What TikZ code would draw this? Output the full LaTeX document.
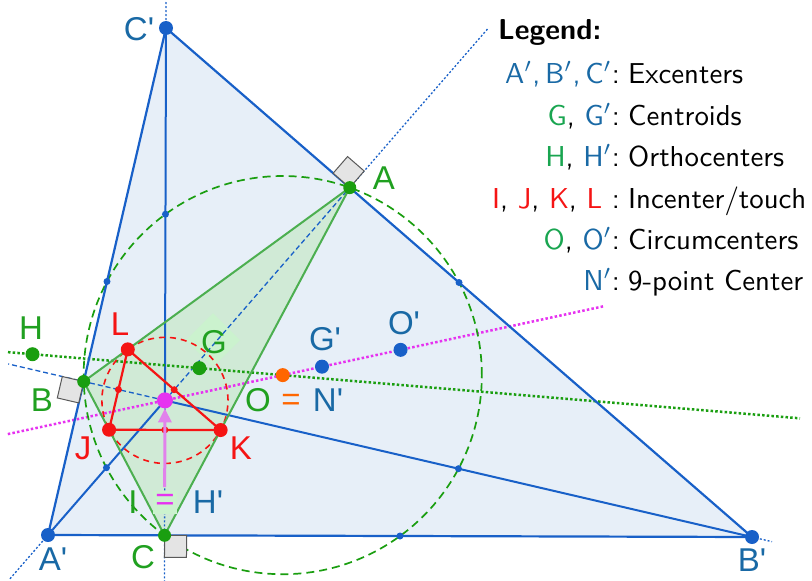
\documentclass[tikz,border=0pt]{standalone}
\usepackage{fontspec}
\newfontfamily\lab{Liberation Sans}
\usetikzlibrary{calc,arrows.meta}
\definecolor{exblue}{RGB}{24,96,200}
\definecolor{lblue}{RGB}{25,105,165}
\definecolor{tgreen}{RGB}{76,175,80}
\definecolor{pgreen}{RGB}{26,158,16}
\definecolor{lgreen}{RGB}{32,160,32}
\definecolor{leggreen}{RGB}{25,165,80}
\definecolor{rred}{RGB}{245,20,20}
\definecolor{mag}{RGB}{230,50,240}
\definecolor{pinkarrow}{RGB}{225,130,235}
\definecolor{orng}{RGB}{255,102,0}
\definecolor{fillblue}{RGB}{231,239,248}
\definecolor{fillgreen}{RGB}{208,234,214}
\definecolor{diamondgreen}{RGB}{203,242,206}
\definecolor{sqfill}{RGB}{228,228,228}
\newcommand{\legtxt}[1]{\scalebox{2.88}{\fontsize{10}{12}\selectfont #1}}
\begin{document}
\begin{tikzpicture}[x=1pt,y=-1pt,
  solidblue/.style={exblue,line width=2pt},
  dashblue/.style={exblue,line width=1.3pt,dash pattern=on 5pt off 3pt},
  dotblue/.style={exblue,line width=1.3pt,dash pattern=on 2pt off 2pt},
  rsq/.style={fill=sqfill,draw=black!65,line width=1pt},
  lbl/.style={inner sep=0pt,anchor=center,font=\lab\fontsize{33}{33}\selectfont},
  legl/.style={inner sep=0pt,anchor=base east,font=\sffamily},
  legr/.style={inner sep=0pt,anchor=base west,font=\sffamily},
]
\useasboundingbox (0,0) rectangle (812,581);
% excenters and derived points
\coordinate (Ap) at (48,535);
\coordinate (Bp) at (752,537);
\coordinate (Cp) at (166,28);
\coordinate (A) at ($(Bp)!(Ap)!(Cp)$);
\coordinate (B) at ($(Ap)!(Bp)!(Cp)$);
\coordinate (C) at ($(Ap)!(Cp)!(Bp)$);
\coordinate (I) at (intersection of Ap--A and Cp--C);
\coordinate (Mc) at ($(Ap)!0.5!(Bp)$);
\coordinate (Mb) at ($(Ap)!0.5!(Cp)$);
\coordinate (Mc2) at ($(Mc)!1!90:(Bp)$);
\coordinate (Mb2) at ($(Mb)!1!90:(Cp)$);
\coordinate (Op) at (intersection of Mc--Mc2 and Mb--Mb2);
\coordinate (O) at ($(I)!0.5!(Op)$);
\coordinate (Gp) at ($1/3*(Ap)+1/3*(Bp)+1/3*(Cp)$);
\coordinate (G) at ($1/3*(A)+1/3*(B)+1/3*(C)$);
\coordinate (H) at ($(O)!3!(G)$);
\coordinate (J) at ($(B)!(I)!(C)$);
\coordinate (K) at ($(C)!(I)!(A)$);
\coordinate (L) at ($(A)!(I)!(B)$);
% fills
\fill[fillblue] (Ap)--(Bp)--(Cp)--cycle;
\fill[fillgreen] (A)--(B)--(C)--cycle;
\fill[diamondgreen] (213,313)--(240,340)--(213,367)--(186,340)--cycle;
% bisector lines
\draw[solidblue] (Ap)--(I);
\draw[dashblue] (I)--(A);
\draw[dotblue] (A)--($(Ap)!1.46!(A)$);
\draw[dotblue] (Ap)--($(Ap)!-0.13!(A)$);
\draw[solidblue] (Bp)--(I);
\draw[dashblue] (I)--($(Bp)!1.113!(B)$);
\draw[dotblue] (Bp)--($(Bp)!-0.03!(B)$);
\draw[solidblue] (Cp)--(I);
\draw[dotblue] (I)--($(C)!-0.09!(Cp)$);
\draw[dotblue] (Cp)--($(Cp)!-0.055!(C)$);
% Euler lines
\draw[pgreen,line width=2.5pt,dash pattern=on 2.5pt off 2.2pt] ($(H)!-0.098!(O)$)--($(H)!3.067!(O)$);
\draw[mag,line width=2.5pt,dash pattern=on 2.5pt off 2.2pt] ($(I)!-0.667!(Op)$)--($(I)!1.868!(Op)$);
% circles
\draw[pgreen,line width=1.7pt,dash pattern=on 8pt off 5pt] let \p1=($(A)-(O)$), \n1={veclen(\x1,\y1)} in (O) circle[radius=\n1];
\draw[rred,line width=1.6pt,dash pattern=on 6pt off 5pt] let \p1=($(J)-(I)$), \n1={veclen(\x1,\y1)} in (I) circle[radius=\n1];
% triangles
\draw[tgreen,line width=2pt,line join=round] (A)--(B)--(C)--cycle;
\draw[exblue,line width=2.2pt,line join=round] (Ap)--(Bp)--(Cp)--cycle;
% right angle squares
\coordinate (a1) at ($(A)!22pt!(Cp)$);
\coordinate (a2) at ($(A)!22pt!180:(Ap)$);
\draw[rsq] (A)--(a1)--($(a1)+(a2)-(A)$)--(a2)--cycle;
\coordinate (b1) at ($(B)!22pt!(Ap)$);
\coordinate (b2) at ($(B)!22pt!180:(Bp)$);
\draw[rsq] (B)--(b1)--($(b1)+(b2)-(B)$)--(b2)--cycle;
\coordinate (c1) at ($(C)!22pt!(Bp)$);
\coordinate (c2) at ($(C)!22pt!180:(Cp)$);
\draw[rsq] (C)--(c1)--($(c1)+(c2)-(C)$)--(c2)--cycle;
% incircle touch triangle
\draw[rred,line width=2.2pt,line join=round] (J)--(K)--(L)--cycle;
\foreach \p/\q in {J/L,L/K,J/K} \fill[rred] ($(\p)!0.5!(\q)$) circle (3.5pt);
% arrow I <- H'
\coordinate (arrS) at ($(I)!0.642!(C)$);
\draw[pinkarrow,line width=3pt,-{Triangle[width=13pt,length=14pt]},shorten >=8pt] (arrS)--(I);
% nine-point small dots
\foreach \p/\q in {Ap/Cp,Cp/Bp,Ap/Bp,Ap/I,Cp/I,Bp/I} \fill[exblue] ($(\p)!0.5!(\q)$) circle (3.5pt);
% points
\foreach \p in {Ap,Bp,Cp,Gp,Op} \fill[exblue] (\p) circle (7pt);
\foreach \p in {A,B,C} \fill[pgreen] (\p) circle (6.5pt);
\foreach \p in {G,H} \fill[pgreen] (\p) circle (7pt);
\foreach \p in {J,K,L} \fill[rred] (\p) circle (7pt);
\fill[orng] (O) circle (7pt);
\fill[mag] (I) circle (8pt);
% labels
\node[lbl,lblue] (lCp) at (139,29) {C'};
\node[lbl,lgreen] (lA) at (384,178) {A};
\node[lbl,lgreen] (lB) at (42,400) {B};
\node[lbl,lgreen] (lC) at (143,557) {C};
\node[lbl,lblue] (lAp) at (53,559) {A'};
\node[lbl,lblue] (lBp) at (752,560) {B'};
\node[lbl,lgreen] (lH) at (31,328) {H};
\node[lbl,rred] (lL) at (120,324) {L};
\node[lbl,rred] (lJ) at (83,448) {J};
\node[lbl,rred] (lK) at (241,448) {K};
\node[lbl,lgreen] (lG) at (214,342) {G};
\node[lbl,lblue] (lGp) at (325,339) {G'};
\node[lbl,lblue] (lOp) at (404,323) {O'};
\node[lbl,lgreen] (lO) at (258,400) {O};
\node[lbl,orng] (lEq1) at (291,402) {=};
\node[lbl,lblue] (lNp) at (328,400) {N'};
\node[lbl,lgreen] (lI) at (133,502) {I};
\node[lbl,mag,fill=diamondgreen,minimum width=24pt,minimum height=23pt] (lEq2) at (165,502) {=};
\node[lbl,lblue] (lHp) at (208,502) {H'};
% legend
\node[inner sep=0pt,anchor=base west] (leg) at (498,39) {\legtxt{\sffamily\bfseries Legend:}};
\node[legl] (l1) at (620,83) {\legtxt{\sffamily\textcolor{lblue}{A$'$,\,B$'$,\,C$'$}:}};
\node[legr] (r1) at (628,83) {\legtxt{\sffamily Excenters}};
\node[legl] (l2) at (620,125) {\legtxt{\sffamily\textcolor{leggreen}{G}, \textcolor{lblue}{G$'$}:}};
\node[legr] (r2) at (628,125) {\legtxt{\sffamily Centroids}};
\node[legl] (l3) at (620,166) {\legtxt{\sffamily\textcolor{leggreen}{H}, \textcolor{lblue}{H$'$}:}};
\node[legr] (r3) at (628,166) {\legtxt{\sffamily Orthocenters}};
\node[legl] (l4) at (620,208) {\legtxt{\sffamily\textcolor{rred}{I}, \textcolor{rred}{J}, \textcolor{rred}{K}, \textcolor{rred}{L} :}};
\node[legr] (r4) at (628,208) {\legtxt{\sffamily Incenter/touch}};
\node[legl] (l5) at (620,249) {\legtxt{\sffamily\textcolor{leggreen}{O}, \textcolor{lblue}{O$'$}:}};
\node[legr] (r5) at (628,249) {\legtxt{\sffamily Circumcenters}};
\node[legl] (l6) at (620,290) {\legtxt{\sffamily\textcolor{lblue}{N$'$}:}};
\node[legr] (r6) at (628,290) {\legtxt{\sffamily 9-point Center}};
\end{tikzpicture}
\end{document}
